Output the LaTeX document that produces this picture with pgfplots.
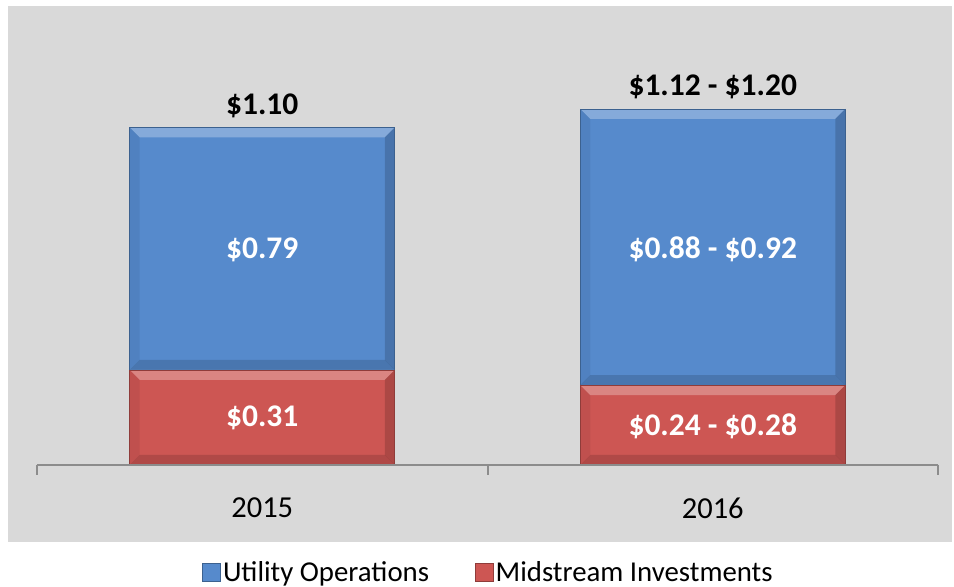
\documentclass[border=0pt]{standalone}
\usepackage{pgfplots}
\pgfplotsset{compat=1.18}
\usepackage{fontspec}
\setmainfont{Carlito}
\definecolor{bgray}{HTML}{D9D9D9}
\definecolor{ublue}{RGB}{86,138,204}
\definecolor{mred}{RGB}{205,86,83}
\definecolor{axgray}{HTML}{8C8C8C}
\tikzset{bevel/.style={path picture={
  \fill[path picture={}, draw=none, white, opacity=0.28] (path picture bounding box.north west) -- (path picture bounding box.north east)
     -- ([shift={(-10pt,-10pt)}]path picture bounding box.north east) -- ([shift={(10pt,-10pt)}]path picture bounding box.north west) -- cycle;
  \fill[path picture={}, draw=none, black, opacity=0.14] (path picture bounding box.south west) -- (path picture bounding box.south east)
     -- ([shift={(-10pt,10pt)}]path picture bounding box.south east) -- ([shift={(10pt,10pt)}]path picture bounding box.south west) -- cycle;
  \fill[path picture={}, draw=none, black, opacity=0.16] (path picture bounding box.north east) -- (path picture bounding box.south east)
     -- ([shift={(-10pt,10pt)}]path picture bounding box.south east) -- ([shift={(-10pt,-10pt)}]path picture bounding box.north east) -- cycle;
  \fill[path picture={}, draw=none, black, opacity=0.06] (path picture bounding box.north west) -- (path picture bounding box.south west)
     -- ([shift={(10pt,10pt)}]path picture bounding box.south west) -- ([shift={(10pt,-10pt)}]path picture bounding box.north west) -- cycle;
}}}
\tikzset{lab/.style={font=\fontsize{31.5}{36}\selectfont\bfseries}}
\pgfplotsset{common/.style={
  scale only axis, width=944pt, height=536pt,
  xmin=-0.56437, xmax=1.53108, ymin=-0.2508, ymax=1.4951,
  axis line style={draw=none},
  xtick=\empty, ytick=\empty,
  ybar stacked, bar width=265pt,
  clip=false,
}}
\begin{document}
\begin{tikzpicture}
% 2015 column (with background and legend)
\begin{axis}[
  common,
  axis background/.style={fill=bgray},
  reverse legend,
  legend style={at={(rel axis cs:0.509,-0.0560)}, anchor=center, draw=none, fill=none,
    legend columns=2, font=\fontsize{28.8}{32}\selectfont,
    /tikz/every even column/.append style={column sep=44pt},
    nodes={inner xsep=2pt, inner ysep=1pt}, inner sep=0pt},
  legend image code/.code={\fill[#1, path picture={}] (0pt,-9pt) rectangle (18pt,9pt);},
  after end axis/.code={
    \coordinate (bbsw) at (rel axis cs:-0.00847,-0.08396);
    \coordinate (bbne) at (rel axis cs:1.00212,1.01119);
  },
]
\addplot[fill=mred, draw=mred!70!black, line width=0.6pt, bevel] coordinates {(0,0.31)};
\addlegendentry{Midstream Investments}
\addplot[fill=ublue, draw=ublue!70!black, line width=0.6pt, bevel] coordinates {(0,0.79)};
\addlegendentry{Utility Operations}
\end{axis}
% 2016 column, same geometry, plus axis line and labels
\begin{axis}[
  common,
  after end axis/.code={
    \draw[axgray, line width=2pt] (axis cs:-0.5,0) -- (axis cs:1.5,0);
    \draw[axgray, line width=2pt] (axis cs:-0.5,0) -- (axis cs:-0.5,-0.0326);
    \draw[axgray, line width=2pt] (axis cs:0.5,0) -- (axis cs:0.5,-0.0326);
    \draw[axgray, line width=2pt] (axis cs:1.5,0) -- (axis cs:1.5,-0.0326);
    \node[lab, text=white] at (axis cs:0,0.700) {\$0.79};
    \node[lab, text=white] at (axis cs:0,0.153) {\$0.31};
    \node[lab, text=white] at (axis cs:1,0.704) {\$0.88 - \$0.92};
    \node[lab, text=white] at (axis cs:1,0.127) {\$0.24 - \$0.28};
    \node[lab, text=black] at (axis cs:0,1.169) {\$1.10};
    \node[lab, text=black] at (axis cs:1,1.231) {\$1.12 - \$1.20};
    \node[font=\fontsize{30.5}{36}\selectfont] at (axis cs:0,-0.140) {2015};
    \node[font=\fontsize{30.5}{36}\selectfont] at (axis cs:1,-0.140) {2016};
  },
]
\addplot[fill=mred, draw=mred!70!black, line width=0.6pt, bevel] coordinates {(1,0.26)};
\addplot[fill=ublue, draw=ublue!70!black, line width=0.6pt, bevel] coordinates {(1,0.90)};
\end{axis}
\pgfresetboundingbox
\path[use as bounding box] (bbsw) rectangle (bbne);
\end{tikzpicture}
\end{document}
